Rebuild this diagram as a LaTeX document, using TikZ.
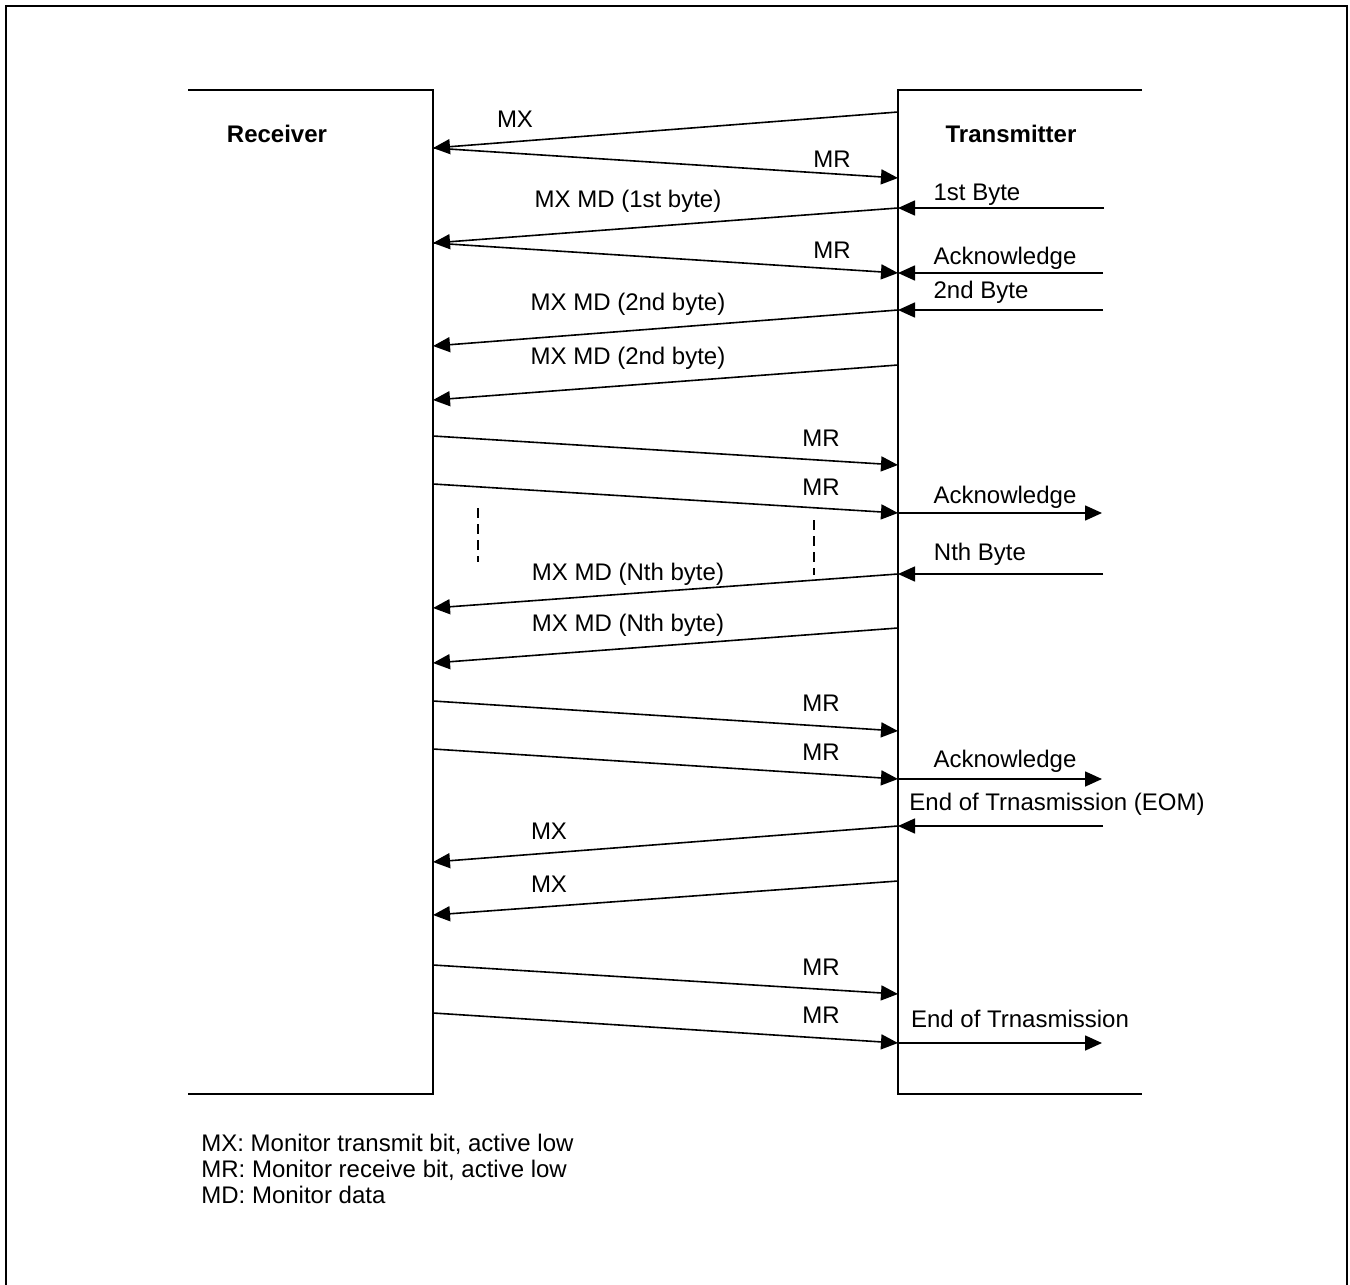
\documentclass[tikz,border=0pt]{standalone}
\usepackage{fontspec}
\setmainfont{Liberation Sans}
\usetikzlibrary{arrows.meta}

\begin{document}
\begin{tikzpicture}[
		x=0.5pt, y=-0.5pt,
		every node/.style={font=\fontsize{12pt}{14pt}\selectfont},
		lbl/.style={anchor=base, inner sep=0pt},
		title/.style={anchor=base, inner sep=0pt, font=\fontsize{12pt}{14pt}\selectfont\bfseries},
		note/.style={anchor=base west, inner sep=0pt},
		lifeline/.style={line width=0.9pt},
		msg/.style={-{Triangle[length=8.5pt, width=7.5pt]}, line width=0.8pt},
		gap/.style={dash pattern=on 5pt off 3pt, line width=0.8pt}
	]
		\useasboundingbox (0,0) rectangle (1350,1285);
		\draw[line width=1.3pt] (6,1285) -- (6,6) -- (1347,6) -- (1347,1285);
		\draw[lifeline] (188,90) -- (433,90) -- (433,1094) -- (188,1094);
		\draw[lifeline] (1142,90) -- (898,90) -- (898,1094) -- (1142,1094);
		\node[title] (rxname) at (277,142) {Receiver};
		\node[title] (txname) at (1011,142) {Transmitter};

		\coordinate (t1) at (898,112);
		\coordinate (t2) at (898,178);
		\coordinate (t3) at (898,208);
		\coordinate (t4) at (898,273);
		\coordinate (t5) at (898,310);
		\coordinate (t6) at (898,365);
		\coordinate (t7) at (898,465);
		\coordinate (t8) at (898,513);
		\coordinate (t9) at (898,574);
		\coordinate (t10) at (898,628);
		\coordinate (t11) at (898,731);
		\coordinate (t12) at (898,779);
		\coordinate (t13) at (898,826);
		\coordinate (t14) at (898,881);
		\coordinate (t15) at (898,994);
		\coordinate (t16) at (898,1043);

		\coordinate (r1) at (433,148);
		\coordinate (r2) at (433,243);
		\coordinate (r3) at (433,346);
		\coordinate (r4) at (433,400);
		\coordinate (r5) at (433,436);
		\coordinate (r6) at (433,484);
		\coordinate (r7) at (433,608);
		\coordinate (r8) at (433,663);
		\coordinate (r9) at (433,701);
		\coordinate (r10) at (433,749);
		\coordinate (r11) at (433,862);
		\coordinate (r12) at (433,915);
		\coordinate (r13) at (433,965);
		\coordinate (r14) at (433,1013);

		\coordinate (e1) at (1104,208);
		\coordinate (e2) at (1103,273);
		\coordinate (e3) at (1103,310);
		\coordinate (e4) at (1102,513);
		\coordinate (e5) at (1103,574);
		\coordinate (e6) at (1102,779);
		\coordinate (e7) at (1103,826);
		\coordinate (e8) at (1102,1043);

		\coordinate (d1) at (478,508);
		\coordinate (d2) at (478,562);
		\coordinate (d3) at (814,520);
		\coordinate (d4) at (814,575);

		\draw[msg] (t1) -- (r1);
		\draw[msg] (r1) -- (t2);
		\draw[msg] (t3) -- (r2);
		\draw[msg] (e1) -- (t3);
		\draw[msg] (r2) -- (t4);
		\draw[msg] (e2) -- (t4);
		\draw[msg] (e3) -- (t5);
		\draw[msg] (t5) -- (r3);
		\draw[msg] (t6) -- (r4);
		\draw[msg] (r5) -- (t7);
		\draw[msg] (r6) -- (t8);
		\draw[msg] (t8) -- (e4);
		\draw[gap] (d1) -- (d2);
		\draw[gap] (d3) -- (d4);
		\draw[msg] (e5) -- (t9);
		\draw[msg] (t9) -- (r7);
		\draw[msg] (t10) -- (r8);
		\draw[msg] (r9) -- (t11);
		\draw[msg] (r10) -- (t12);
		\draw[msg] (t12) -- (e6);
		\draw[msg] (e7) -- (t13);
		\draw[msg] (t13) -- (r11);
		\draw[msg] (t14) -- (r12);
		\draw[msg] (r13) -- (t15);
		\draw[msg] (r14) -- (t16);
		\draw[msg] (t16) -- (e8);

		\node[lbl] (mx1) at (515,127) {MX};
		\node[lbl] (mr1) at (832,167) {MR};
		\node[lbl] (md1) at (628,207) {MX MD (1st byte)};
		\node[lbl] (byte1) at (977,200) {1st Byte};
		\node[lbl] (mr2) at (832,258) {MR};
		\node[lbl] (ack1) at (1005,264) {Acknowledge};
		\node[lbl] (byte2) at (981,298) {2nd Byte};
		\node[lbl] (md2) at (628,310) {MX MD (2nd byte)};
		\node[lbl] (md3) at (628,364) {MX MD (2nd byte)};
		\node[lbl] (mr3) at (821,446) {MR};
		\node[lbl] (mr4) at (821,495) {MR};
		\node[lbl] (ack2) at (1005,503) {Acknowledge};
		\node[lbl] (byten) at (980,560) {Nth Byte};
		\node[lbl] (md4) at (628,580) {MX MD (Nth byte)};
		\node[lbl] (md5) at (628,631) {MX MD (Nth byte)};
		\node[lbl] (mr5) at (821,711) {MR};
		\node[lbl] (mr6) at (821,760) {MR};
		\node[lbl] (ack3) at (1005,767) {Acknowledge};
		\node[lbl] (eom) at (1057,810) {End of Trnasmission (EOM)};
		\node[lbl] (mx2) at (549,839) {MX};
		\node[lbl] (mx3) at (549,892) {MX};
		\node[lbl] (mr7) at (821,975) {MR};
		\node[lbl] (mr8) at (821,1023) {MR};
		\node[lbl] (eot) at (1020,1027) {End of Trnasmission};

		\node[note] (keymx) at (201,1151) {MX: Monitor transmit bit, active low};
		\node[note] (keymr) at (201,1177) {MR: Monitor receive bit, active low};
		\node[note] (keymd) at (201,1203) {MD: Monitor data};
	\end{tikzpicture}
\end{document}
